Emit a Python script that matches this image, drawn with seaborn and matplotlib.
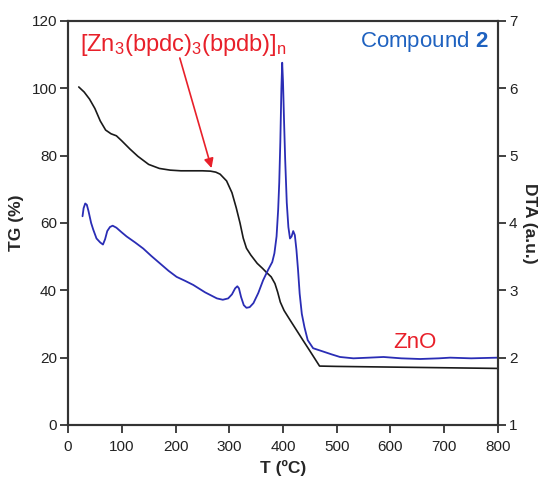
import matplotlib
matplotlib.use("Agg")
import matplotlib.pyplot as plt
import seaborn as sns
import pandas as pd

# Thermogravimetric (TG) trace, % mass vs temperature
tg_temp = [20, 30, 40, 50, 60, 70, 80, 90, 100, 115, 130, 150, 170, 190, 210, 230,
           250, 265, 275, 283, 295, 305, 313, 320, 326, 332, 340, 352, 362, 370,
           378, 385, 390, 395, 402, 413, 425, 437, 450, 462, 468, 500, 550, 600,
           650, 700, 750, 800]
tg_mass = [100.4, 98.9, 96.8, 94.0, 90.3, 87.6, 86.5, 85.9, 84.4, 82.0, 79.8, 77.4,
           76.2, 75.7, 75.5, 75.5, 75.5, 75.4, 75.1, 74.5, 72.5, 69.0, 64.5, 60.0,
           55.5, 52.5, 50.5, 48.0, 46.5, 45.2, 44.0, 42.0, 39.5, 36.5, 34.0, 31.2,
           28.2, 25.2, 22.0, 19.0, 17.5, 17.4, 17.3, 17.2, 17.1, 17.0, 16.9, 16.8]

# Differential thermal analysis (DTA) trace, arbitrary units
dta_temp = [27, 29, 32, 35, 38, 43, 47, 53, 60, 65, 69, 73, 78, 83, 90, 100, 109,
            125, 140, 155, 171, 187, 202, 218, 233, 255, 277, 288, 298, 305, 311,
            315, 318, 322, 327, 332, 338, 345, 354, 363, 372, 380, 384, 388, 391,
            393, 395, 397, 398.5, 400, 402, 404, 407, 410, 413, 416, 419, 422, 425,
            428, 431, 435, 440, 446, 456, 475, 490, 506, 531, 560, 587, 620, 655,
            690, 711, 750, 800]
dta_signal = [4.10, 4.22, 4.29, 4.27, 4.18, 4.00, 3.90, 3.77, 3.71, 3.68, 3.76, 3.88,
              3.94, 3.96, 3.93, 3.86, 3.80, 3.71, 3.62, 3.51, 3.40, 3.29, 3.20, 3.14,
              3.08, 2.97, 2.88, 2.86, 2.88, 2.94, 3.03, 3.06, 3.03, 2.90, 2.78, 2.74,
              2.75, 2.81, 2.96, 3.15, 3.30, 3.42, 3.55, 3.80, 4.20, 4.60, 5.20, 6.00,
              6.38, 6.10, 5.50, 4.95, 4.30, 3.94, 3.77, 3.80, 3.88, 3.82, 3.60, 3.30,
              2.95, 2.65, 2.45, 2.26, 2.14, 2.09, 2.05, 2.01, 1.99, 2.00, 2.01, 1.99,
              1.98, 1.99, 2.00, 1.99, 2.00]

x_ticks = [0, 100, 200, 300, 400, 500, 600, 700, 800]
tg_ticks = [0, 20, 40, 60, 80, 100, 120]
dta_ticks = [1, 2, 3, 4, 5, 6, 7]

sns.set_style("ticks")
plt.rcParams["font.family"] = ["Liberation Sans", "DejaVu Sans"]
plt.rcParams["mathtext.fontset"] = "custom"
plt.rcParams["mathtext.rm"] = "Liberation Sans"
plt.rcParams["mathtext.it"] = "Liberation Sans:italic"
plt.rcParams["mathtext.bf"] = "Liberation Sans:bold"

spine_col = "#333333"
red = "#e8202a"
line_blue = "#2a2db5"
text_blue = "#1f62c0"

fig = plt.figure(figsize=(5.42, 4.78), dpi=100)
ax = fig.add_axes([0.1255, 0.1109, 0.7933, 0.8452])
ax2 = ax.twinx()

tg_df = pd.DataFrame({"T": tg_temp, "TG": tg_mass})
dta_df = pd.DataFrame({"T": dta_temp, "DTA": dta_signal})

sns.lineplot(data=tg_df, x="T", y="TG", ax=ax, color="#1a1a1a", lw=1.2,
             sort=False, estimator=None)
sns.lineplot(data=dta_df, x="T", y="DTA", ax=ax2, color=line_blue, lw=1.3,
             sort=False, estimator=None)

ax.set_xlim(0, 800)
ax.set_ylim(0, 120)
ax2.set_ylim(1, 7)
ax.set_xticks(x_ticks)
ax.set_yticks(tg_ticks)
ax2.set_yticks(dta_ticks)

for a in (ax, ax2):
    for s in a.spines.values():
        s.set_color(spine_col)
        s.set_linewidth(1.5)
    a.tick_params(length=6, width=1.3, color=spine_col, labelsize=11,
                  labelcolor="#222222", pad=2)
ax.tick_params(axis="x", pad=5)

ax.set_xlabel("T (ºC)", fontsize=12.5, fontweight="bold", labelpad=4)
ax.set_ylabel("TG (%)", fontsize=12.5, fontweight="bold", labelpad=5)
ax2.set_ylabel("DTA (a.u.)", fontsize=12.5, fontweight="bold", rotation=270,
               labelpad=14)

# Annotations
ax.text(214, 112.9, r"[Zn$_3$(bpdc)$_3$(bpdb)]$_\mathrm{n}$", color=red,
        fontsize=17, ha="center", va="center")
ax.annotate("", xy=(267, 76.3), xytext=(208, 109),
            arrowprops=dict(arrowstyle="-|>", color=red, lw=1.2,
                            mutation_scale=14, shrinkA=0, shrinkB=0))
ax.text(646, 24.4, "ZnO", color=red, fontsize=16, ha="center", va="center")
ax.text(0.977, 0.950, r"Compound $\mathbf{2}$", color=text_blue, fontsize=16,
        ha="right", va="center", transform=ax.transAxes)

fig.savefig("out.png", dpi=100)
